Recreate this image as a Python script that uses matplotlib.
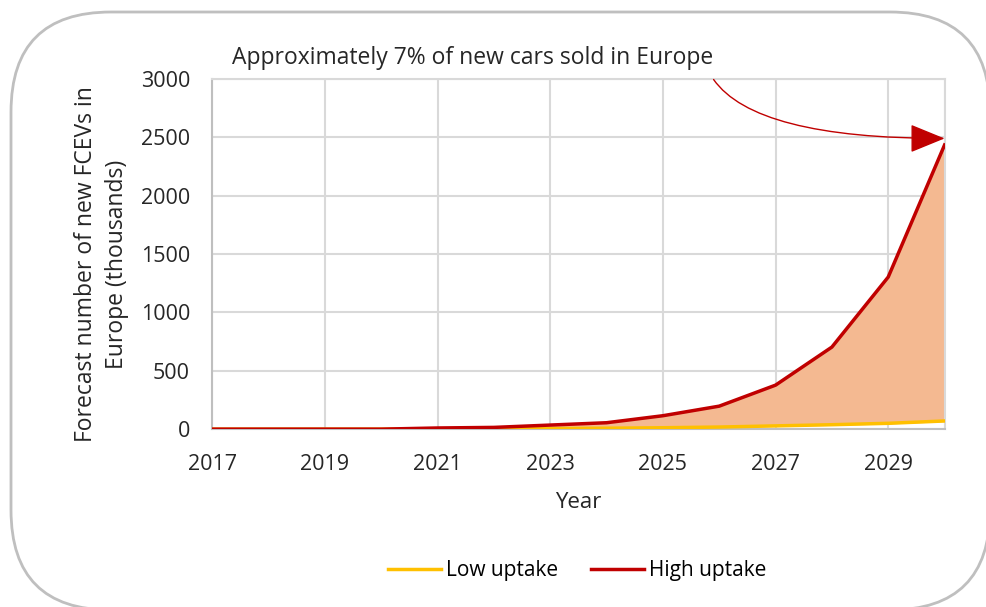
import numpy as np
import matplotlib.pyplot as plt
from matplotlib.patches import FancyBboxPatch

plt.rcParams['font.family'] = ['Open Sans', 'DejaVu Sans']

years = [2017, 2018, 2019, 2020, 2021, 2022, 2023, 2024, 2025, 2026, 2027, 2028, 2029, 2030]
low_uptake = [0, 0, 0, 0, 2, 3, 5, 8, 12, 18, 28, 38, 50, 70]
high_uptake = [0, 0, 0, 0, 10, 15, 35, 55, 115, 197, 377, 703, 1303, 2434]
xticks = [2017, 2019, 2021, 2023, 2025, 2027, 2029]
yticks = [0, 500, 1000, 1500, 2000, 2500, 3000]

red = '#C00000'
yellow = '#FFC000'
txt = '#262626'

fig = plt.figure(figsize=(9.87, 6.07), dpi=100)

# rounded border around the whole chart (pixel coords)
box = FancyBboxPatch((11, -3), 979, 598, boxstyle="round,pad=0,rounding_size=100",
                     transform=None, facecolor='white', edgecolor='#BFBFBF', linewidth=2,
                     zorder=-10)
fig.patches.append(box)

ax = fig.add_axes([0.215, 0.293, 0.742, 0.577])
ax.set_facecolor('none')

ax.fill_between(years, low_uptake, high_uptake, color='#F4B991', zorder=2)
ax.plot(years, low_uptake, color=yellow, lw=2.5, label='Low uptake', zorder=3)
ax.plot(years, high_uptake, color=red, lw=2.5, label='High uptake', zorder=4)

ax.set_xlim(2017, 2030)
ax.set_ylim(0, 3000)
ax.set_xticks(xticks)
ax.set_yticks(yticks)
ax.grid(True, color='#D9D9D9', lw=1.5, zorder=0)
ax.axvline(2030, color='#D9D9D9', lw=1.5, zorder=0)
ax.set_axisbelow(True)
for s in ax.spines.values():
    s.set_color('#D9D9D9')
    s.set_linewidth(1.5)
ax.spines['left'].set_color('#BFBFBF')
ax.spines['bottom'].set_color('#BFBFBF')
ax.tick_params(length=0, labelsize=15.5, colors=txt)
ax.tick_params(axis='x', pad=18)
ax.tick_params(axis='y', pad=16)

ax.set_xlabel('Year', fontsize=16, color=txt, labelpad=12)
ax.set_ylabel('Forecast number of new FCEVs in\nEurope (thousands)', fontsize=16.5,
              color=txt, linespacing=1.4)
ax.yaxis.set_label_coords(-0.113, 0.47)

fig.text(0.235, 0.905, 'Approximately 7% of new cars sold in Europe', fontsize=16.5,
         color=txt, va='center')

ax.annotate('', xy=(2030, 2490), xytext=(2025.9, 2995),
            arrowprops=dict(arrowstyle='-|>,head_length=2.2,head_width=0.9',
                            color=red, lw=1, shrinkA=0, shrinkB=0,
                            connectionstyle='angle3,angleA=-55,angleB=0'),
            annotation_clip=False, zorder=6)

fig.legend(loc='center', bbox_to_anchor=(0.585, 0.06), ncol=2, frameon=False,
           fontsize=15, handlelength=2.55, columnspacing=1.55, handletextpad=0.25)

fig.savefig('out.png', dpi=100)
